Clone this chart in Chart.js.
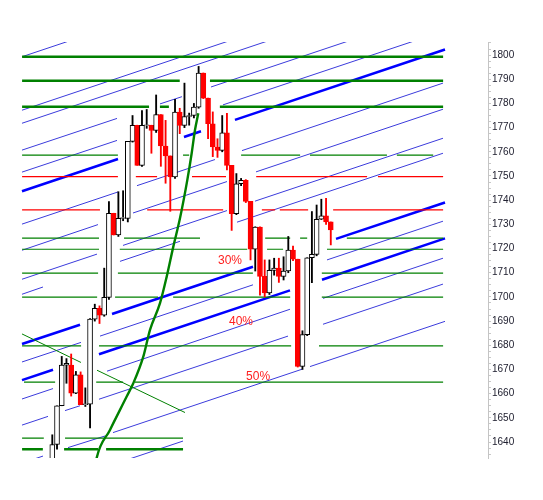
<!DOCTYPE html>
<html>
<head>
<meta charset="utf-8">
<script src="https://cdn.jsdelivr.net/npm/chart.js@4.4.1/dist/chart.umd.min.js"></script>
<style>
  html, body { margin: 0; padding: 0; background: #fff; }
  #grafico { display: block; }
</style>
</head>
<body>
<canvas id="grafico" width="543" height="500"></canvas>
<script>
// Velas (indice de sesion 1..60)
const sesiones = [1, 2, 3, 4, 5, 6, 7, 8, 9, 10, 11, 12, 13, 14, 15, 16, 17, 18, 19, 20,
    21, 22, 23, 24, 25, 26, 27, 28, 29, 30, 31, 32, 33, 34, 35, 36, 37, 38, 39, 40,
    41, 42, 43, 44, 45, 46, 47, 48, 49, 50, 51, 52, 53, 54, 55, 56, 57, 58, 59, 60];
const apertura = [1630, 1639, 1655, 1671.8, 1671.8, 1660.2, 1667.8, 1655.5, 1655.7, 1690.8,
    1695.3, 1692.5, 1699.8, 1734.6, 1725.6, 1732.5, 1732.5, 1764.3, 1770.9, 1754.4,
    1770.9, 1770.9, 1768.8, 1775.4, 1762.4, 1758.3, 1749.6, 1776.4, 1770.9, 1774.6,
    1775, 1778.5, 1792.6, 1782.2, 1771.6, 1762, 1760.6, 1767.8, 1754.4, 1734.4,
    1746.8, 1748.2, 1739.5, 1719.7, 1728.9, 1708.5, 1701.7, 1711, 1711.9, 1708.5,
    1710.7, 1719.4, 1715.6, 1671.3, 1684.4, 1716.2, 1717.6, 1732.1, 1733.5, 1731];
const maximo = [1643, 1655, 1675.4, 1674.5, 1676.4, 1669.2, 1669, 1662.4, 1691, 1697,
    1696.3, 1711.9, 1739.4, 1734.6, 1743.5, 1743.9, 1764.3, 1775, 1771, 1777,
    1777.5, 1771, 1783.5, 1775.4, 1773, 1758.3, 1781.7, 1778, 1788.4, 1776,
    1780, 1795.3, 1792.6, 1782.2, 1776.5, 1765.4, 1775, 1775.9, 1754.4, 1751,
    1749, 1748.5, 1739.5, 1729, 1729, 1715.3, 1715.3, 1716, 1716, 1716.6,
    1725, 1721, 1715.6, 1686, 1716.2, 1735.3, 1738, 1740.4, 1740.8, 1731];
const minimo = [1628, 1637, 1655, 1664.3, 1659, 1660, 1655.5, 1654.7, 1645.8, 1690,
    1689, 1692, 1699, 1725.6, 1725, 1731.5, 1731, 1764, 1754.4, 1754,
    1769.7, 1759.4, 1768, 1754, 1747, 1735.4, 1749, 1767.5, 1770, 1771,
    1774, 1778, 1782, 1765.4, 1758, 1757.7, 1760, 1752.5, 1727.5, 1734,
    1746, 1739, 1715.3, 1710.7, 1700.7, 1700, 1701, 1709, 1706, 1707,
    1710, 1715, 1671, 1670, 1684, 1705.9, 1717, 1732, 1730, 1721.5];
const cierre = [1639, 1655, 1671.8, 1672.5, 1660.2, 1667.8, 1655.5, 1655.8, 1690.8, 1695.3,
    1692.5, 1699.8, 1734.6, 1725.6, 1732.5, 1732.8, 1764.3, 1770.9, 1754.4, 1770.9,
    1771.2, 1768.8, 1775.4, 1762.4, 1758.3, 1749.6, 1776.4, 1770.9, 1774.6, 1775,
    1778.5, 1792.6, 1782.2, 1771.6, 1762, 1760.6, 1767.8, 1754.4, 1734.4, 1746.8,
    1748.2, 1739.5, 1719.7, 1728.9, 1708.5, 1701.7, 1711, 1711.9, 1708.5, 1710.7,
    1719.4, 1715.6, 1671.3, 1684.4, 1716.2, 1717.6, 1732.1, 1733.5, 1731, 1727.7];

// Etiquetas del eje de precios
const etiquetasPrecio = [1640, 1650, 1660, 1670, 1680, 1690, 1700, 1710, 1720, 1730,
    1740, 1750, 1760, 1770, 1780, 1790, 1800];

// Niveles horizontales y sus tramos visibles [desde, hasta] en sesiones
const nivelesVerdesGruesos = [1799.3, 1789.4, 1778.6, 1637.0];
const tramosVerdesGruesos = [
    [[-5.4, 83.8]],
    [[-5.4, 28.0], [34.4, 83.8]],
    [[-5.4, 21.5], [23.8, 25.7], [36.5, 83.8]],
    [[-5.4, -1.0], [3.5, 10.7], [12.4, 28.7]]
];
const nivelesVerdesFinos = [1758.6, 1724.3, 1719.7, 1709.8, 1699.9, 1679.8, 1664.8, 1641.6];
const tramosVerdesFinos = [
    [[-5.4, 14.9], [28.7, 30.0], [41.0, 53.5], [55.6, 71.9], [74.0, 81.7]],
    [[-5.4, 10.9], [16.2, 32.3], [46.1, 51.4], [53.5, 55.0], [63.4, 83.8]],
    [[-5.4, 10.9], [15.3, 42.3], [46.5, 49.9], [59.2, 83.8]],
    [[-5.4, 10.7], [14.9, 43.5], [58.1, 83.8]],
    [[-5.4, 10.5], [14.3, 23.4], [26.6, 51.4], [58.1, 83.8]],
    [[-5.4, 7.1], [10.9, 51.6], [57.5, 83.8]],
    [[-5.0, 1.6], [10.3, 16.0], [18.5, 83.8]],
    [[-5.4, -0.8], [3.7, 28.7]]
];
const nivelesRojos = [1749.7, 1736.0];
const tramosRojos = [
    [[-5.4, 14.9], [18.7, 23.2], [30.6, 37.8], [44.2, 67.7], [70.0, 83.8]],
    [[-5.4, 11.1], [21.1, 37.2], [45.4, 48.2], [49.2, 55.2], [60.5, 83.8]]
];

// Lineas del canal: tramos [sesion1, precio1, sesion2, precio2]
const canalFino = [
    [[-5.42, 1799.3, 83.77, 1857.6]],
    [[-5.42, 1777.2, 83.77, 1835.5]],
    [[-5.42, 1771.8, 83.77, 1830.1]],
    [[-5.42, 1760.7, 14.71, 1773.8], [23.82, 1779.8, 28.47, 1782.8], [34.62, 1786.8, 83.77, 1818.9]],
    [[-5.42, 1751.6, 14.71, 1764.7], [37.16, 1779.4, 83.77, 1809.8]],
    [[-5.42, 1730.1, 14.92, 1743.4], [18.94, 1746.0, 35.47, 1756.8], [41.19, 1760.5, 83.77, 1788.4]],
    [[-5.42, 1719.3, 10.68, 1729.9], [18.1, 1734.7, 38.01, 1747.7], [44.16, 1751.7, 83.77, 1777.6]],
    [[-5.42, 1707.3, 10.47, 1717.7], [15.98, 1721.3, 38.01, 1735.7], [43.94, 1739.6, 83.77, 1765.6]],
    [[-5.42, 1701.1, -0.97, 1704.1], [15.34, 1714.7, 28.05, 1723.0], [40.13, 1730.9, 83.77, 1759.4]],
    [[-5.42, 1673.1, 7.08, 1681.2], [11.11, 1683.8, 43.52, 1705.0], [59.2, 1715.3, 83.77, 1731.3]],
    [[-5.42, 1657.8, 1.15, 1662.1], [12.59, 1669.3, 51.36, 1694.9], [58.35, 1699.4, 83.77, 1716.0]],
    [[-5.42, 1647.0, 0.09, 1650.6], [3.69, 1653.0, 6.87, 1655.0], [10.89, 1657.7, 50.94, 1683.8], [58.35, 1688.7, 83.77, 1705.3]],
    [[-3.72, 1632.4, -0.97, 1634.2], [4.33, 1637.7, 12.17, 1642.5], [13.86, 1643.9, 53.9, 1670.1], [55.6, 1671.2, 84.2, 1689.9]],
    [[17.67, 1633.2, 28.69, 1640.4]]
];
const canalGrueso = [
    [[-5.42, 1743.7, 14.92, 1757.0], [28.9, 1766.1, 32.5, 1768.5], [39.7, 1773.2, 84.2, 1802.3]],
    [[-5.42, 1680.5, 6.87, 1688.5], [13.65, 1692.9, 43.52, 1712.5], [61.11, 1724.0, 84.2, 1739.0]],
    [[-5.42, 1665.6, 1.15, 1669.9], [10.89, 1676.3, 51.36, 1702.7], [58.14, 1707.1, 84.2, 1724.2]]
];
// Linea verde descendente
const lineaDescendente = [[-5.42, 1684.7, 7.08, 1672.9], [10.47, 1669.7, 29.11, 1652.2]];

// Curva verde (sesion, precio)
const curvaSesion = [10.0, 10.41, 13.22, 16.76, 18.16, 20.28, 21.7, 23.82, 25.24, 26.64, 28.05, 29.6, 30.53, 31.23, 31.93];
const curvaPrecio = [1628.5, 1633.5, 1645.0, 1658.8, 1664.3, 1675.3, 1686.4, 1697.4, 1708.4, 1720.8, 1732.5, 1748.3, 1759.4, 1769.0, 1775.9];

// Porcentajes de retroceso
const pctTextos = ['30%', '40%', '50%'];
const pctSesion = [38.65, 40.98, 44.6];
const pctPrecio = [1714.9, 1689.7, 1666.9];

document.addEventListener('DOMContentLoaded', function() {
    const blanco = '#ffffff';
    const rojo = '#ff0000';
    const negro = '#000000';
    const sube = sesiones.map((s, k) => cierre[k] >= apertura[k]);

    function tramosHorizontales(nivel, tramos) {
        const puntos = [];
        tramos.forEach(([a, b]) => {
            puntos.push({ x: a, y: nivel }, { x: b, y: nivel }, { x: b, y: null });
        });
        return puntos;
    }

    function tramosDiagonales(tramos) {
        const puntos = [];
        tramos.forEach(([x1, y1, x2, y2]) => {
            puntos.push({ x: x1, y: y1 }, { x: x2, y: y2 }, { x: x2, y: null });
        });
        return puntos;
    }

    function linea(puntos, color, ancho, orden) {
        return {
            type: 'line',
            data: puntos,
            borderColor: color,
            borderWidth: ancho,
            pointRadius: 0,
            fill: false,
            tension: 0,
            spanGaps: false,
            order: orden
        };
    }

    const datasets = [];

    // Cuerpos
    datasets.push({
        type: 'bar',
        data: sesiones.map((s, k) => ({ x: s, y: [apertura[k], cierre[k]] })),
        backgroundColor: sube.map(v => v ? blanco : rojo),
        borderColor: sube.map(v => v ? negro : rojo),
        borderWidth: 1,
        borderSkipped: false,
        barThickness: 5,
        grouped: false,
        order: 0
    });
    // Mechas
    datasets.push({
        type: 'bar',
        data: sesiones.map((s, k) => ({ x: s, y: [minimo[k], maximo[k]] })),
        backgroundColor: sube.map(v => v ? negro : rojo),
        borderWidth: 0,
        barThickness: 1.2,
        grouped: false,
        order: 1
    });

    nivelesRojos.forEach((n, k) => datasets.push(linea(tramosHorizontales(n, tramosRojos[k]), rojo, 1.2, 3)));
    nivelesVerdesFinos.forEach((n, k) => datasets.push(linea(tramosHorizontales(n, tramosVerdesFinos[k]), '#008000', 1.2, 3)));
    nivelesVerdesGruesos.forEach((n, k) => datasets.push(linea(tramosHorizontales(n, tramosVerdesGruesos[k]), '#008000', 2.5, 3)));
    canalFino.forEach(t => datasets.push(linea(tramosDiagonales(t), '#3b3bdc', 1, 4)));
    canalGrueso.forEach(t => datasets.push(linea(tramosDiagonales(t), '#0000ff', 2.6, 4)));
    datasets.push(linea(tramosDiagonales(lineaDescendente), '#008000', 1, 3));

    const curva = linea(curvaSesion.map((s, k) => ({ x: s, y: curvaPrecio[k] })), '#008000', 2.4, 2);
    curva.tension = 0.4;
    curva.cubicInterpolationMode = 'monotone';
    datasets.push(curva);

    // Textos de porcentaje
    const etiquetasPct = {
        id: 'etiquetasPct',
        afterDatasetsDraw(chart) {
            const { ctx, scales: { x, y } } = chart;
            ctx.save();
            ctx.fillStyle = '#ff2020';
            ctx.font = '12px "Liberation Sans", Arial, sans-serif';
            ctx.textAlign = 'center';
            ctx.textBaseline = 'middle';
            pctTextos.forEach((t, k) => {
                ctx.fillText(t, x.getPixelForValue(pctSesion[k]), y.getPixelForValue(pctPrecio[k]));
            });
            ctx.restore();
        }
    };

    const ctx = document.getElementById('grafico').getContext('2d');
    new Chart(ctx, {
        type: 'bar',
        data: { datasets: datasets },
        options: {
            responsive: false,
            animation: false,
            events: [],
            layout: { padding: { left: 0, right: 0, top: 42, bottom: 42 } },
            plugins: {
                legend: { display: false },
                tooltip: { enabled: false }
            },
            scales: {
                x: {
                    type: 'linear',
                    min: -10.08,
                    max: 93.31,
                    offset: false,
                    display: false
                },
                y: {
                    position: 'right',
                    min: 1633.4,
                    max: 1805.4,
                    afterFit: function(scale) { scale.width = 55; },
                    afterBuildTicks: function(scale) {
                        const marcas = [];
                        for (let v = 1635; v <= 1805; v += 2.5) marcas.push({ value: v });
                        scale.ticks = marcas;
                    },
                    ticks: {
                        autoSkip: false,
                        padding: 1,
                        color: '#202030',
                        font: { family: '"Liberation Sans", Arial, sans-serif', size: 10 },
                        callback: function(v) {
                            return etiquetasPrecio.includes(v) ? String(v) : '';
                        }
                    },
                    grid: {
                        drawOnChartArea: false,
                        drawTicks: true,
                        tickLength: 3,
                        color: '#c8c8c8'
                    },
                    border: { display: true, color: '#c4c4c4', width: 1 }
                }
            }
        },
        plugins: [etiquetasPct]
    });
});
</script>
</body>
</html>
